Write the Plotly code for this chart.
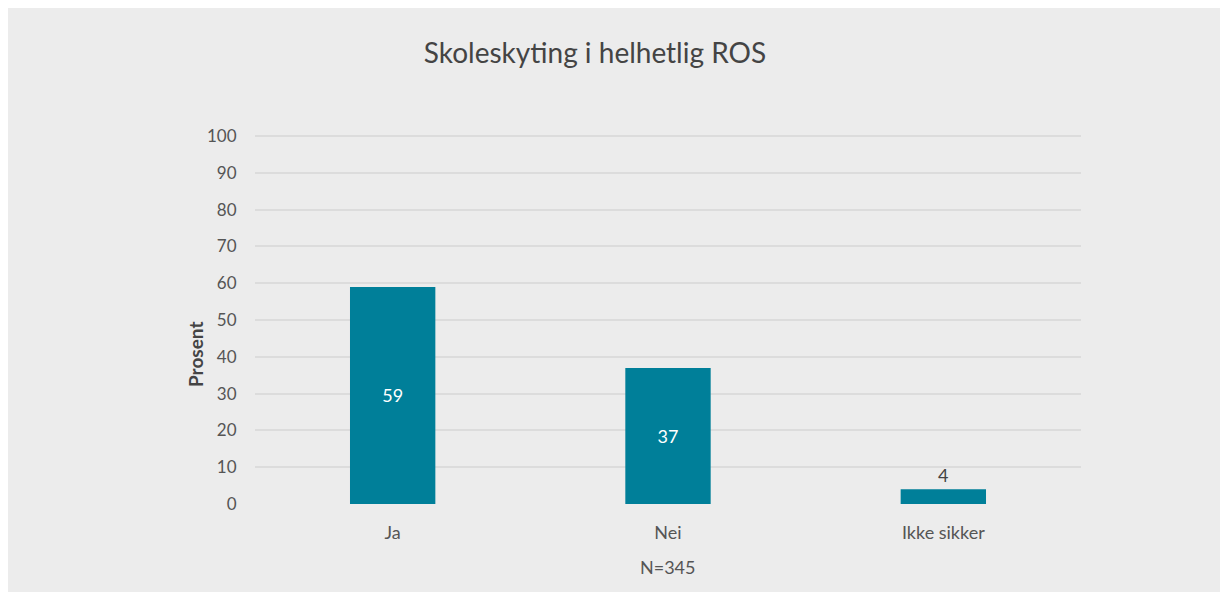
import plotly.graph_objects as go

categories = ["Ja", "Nei", "Ikke sikker"]
values = [59, 37, 4]
labels = ["59", "37", "4"]
y_ticks = [0, 10, 20, 30, 40, 50, 60, 70, 80, 90, 100]

OFF = 8  # page body margin in the screenshot
W, H = 1228, 592
ml, mt = 255 - OFF, 135 - OFF
pw, ph = 826, 369
mr, mb = W - ml - pw, H - mt - ph

BG = "#ececec"
BAR = "#007f99"
FONT = "Lato, 'Open Sans', sans-serif"

fig = go.Figure(go.Bar(
    x=categories, y=values, text=labels,
    textposition=["inside", "inside", "outside"],
    insidetextanchor="middle",
    insidetextfont=dict(color="white", size=18, family=FONT),
    outsidetextfont=dict(color="#444444", size=18, family=FONT),
    marker=dict(color=BAR, line=dict(width=0)),
    cliponaxis=False,
))

fig.add_annotation(text="<b>Prosent</b>", textangle=-90, xref="paper", yref="paper",
                   x=-(255 - 195) / pw, y=(504 - 355) / ph, xanchor="center", yanchor="middle",
                   showarrow=False, font=dict(size=19, color="#444444", family=FONT))
fig.add_annotation(text="N=345", xref="paper", yref="paper",
                   x=0.5, y=-(567 - 504) / ph, xanchor="center", yanchor="middle",
                   showarrow=False, font=dict(size=18, color="#555555", family=FONT))

fig.update_layout(
    width=W, height=H,
    margin=dict(l=ml, r=mr, t=mt, b=mb),
    paper_bgcolor=BG, plot_bgcolor=BG,
    bargap=0.69,
    showlegend=False,
    font=dict(family=FONT, color="#555555", size=17),
    title=dict(text="Skoleskyting i helhetlig ROS", x=(595 - OFF) / W, xanchor="center",
               y=1 - (53 - OFF) / H, yanchor="middle",
               font=dict(size=28, color="#444444", family=FONT)),
    xaxis=dict(showgrid=False, zeroline=False, showline=False,
               tickfont=dict(size=18, color="#555555"), ticks="outside", ticklen=12,
               tickcolor="rgba(0,0,0,0)"),
    yaxis=dict(range=[0, 100.3], tickvals=y_ticks,
               showgrid=True, gridcolor="#dcdcdc", gridwidth=2,
               zeroline=False, showline=False,
               tickfont=dict(size=17, color="#555555"),
               ticks="outside", ticklen=14, tickcolor="rgba(0,0,0,0)"),
)

fig.write_html("out.html")
